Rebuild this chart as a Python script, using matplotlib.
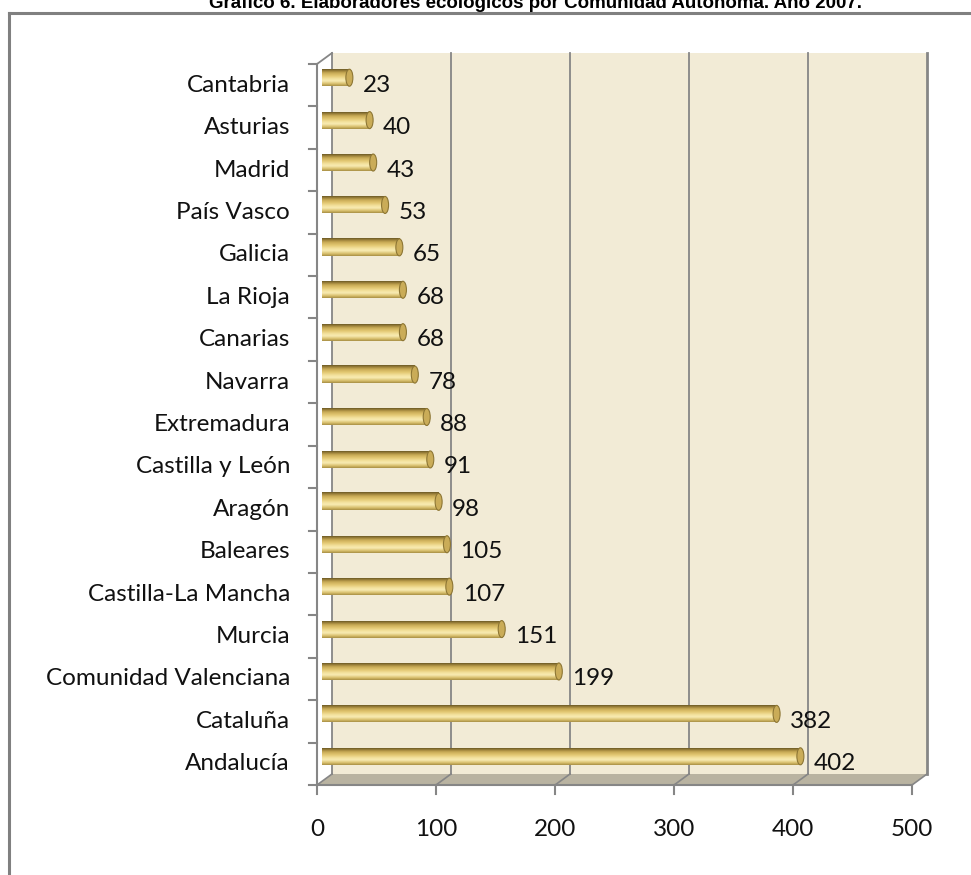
import matplotlib
matplotlib.use("Agg")
import matplotlib.pyplot as plt
import numpy as np
from matplotlib.patches import Polygon, Ellipse
from matplotlib.lines import Line2D
from matplotlib.colors import LinearSegmentedColormap

# data (top to bottom as in the chart)
regiones = ['Cantabria', 'Asturias', 'Madrid', 'País Vasco', 'Galicia', 'La Rioja',
            'Canarias', 'Navarra', 'Extremadura', 'Castilla y León', 'Aragón', 'Baleares',
            'Castilla-La Mancha', 'Murcia', 'Comunidad Valenciana', 'Cataluña', 'Andalucía']
elaboradores = [23, 40, 43, 53, 65, 68, 68, 78, 88, 91, 98, 105, 107, 151, 199, 382, 402]
x_ticks = [0, 100, 200, 300, 400, 500]
titulo = 'Gráfico 6. Elaboradores ecológicos por Comunidad Autónoma. Año 2007.'

W, H = 971, 875
fig = plt.figure(figsize=(W / 100, H / 100), dpi=100)

# front plane of the 3d box, in pixels
x0p, x1p, y0p, y1p = 317, 912, 64, 785
ax = fig.add_axes([x0p / W, 1 - y1p / H, (x1p - x0p) / W, (y1p - y0p) / H])
n = len(regiones)
ax.set_xlim(0, 500)
ax.set_ylim(-0.5, n - 0.5)
ax.axis('off')

px_x = 500 / (x1p - x0p)      # data units per pixel
px_y = n / (y1p - y0p)
dx, dy = 15 * px_x, 11 * px_y  # depth of the box
ypos = np.arange(n)[::-1]      # Cantabria on top

grid_c = '#868686'
font = 'Lato'
fs = 17.5

# back wall
ax.add_patch(Polygon([(dx, -0.5 + dy), (500 + dx, -0.5 + dy), (500 + dx, n - 0.5 + dy), (dx, n - 0.5 + dy)],
                     closed=True, fc='#f2ebd6', ec='none', zorder=0, clip_on=False))
# floor
ax.add_patch(Polygon([(0, -0.5), (500, -0.5), (500 + dx, -0.5 + dy), (dx, -0.5 + dy)],
                     closed=True, fc='#b9b3a1', ec='none', zorder=0.5, clip_on=False))

for t in x_ticks:
    # gridline on the back wall
    lw = 2 if t == 500 else 1.3
    ax.plot([t + dx, t + dx], [-0.5 + dy, n - 0.5 + dy], color=grid_c, lw=lw, zorder=1, clip_on=False)
    # floor diagonal
    ax.plot([t, t + dx], [-0.5, -0.5 + dy], color=grid_c, lw=1.2, zorder=1, clip_on=False)
    # tick under the front axis
    ax.plot([t, t], [-0.5, -0.5 - 9 * px_y], color=grid_c, lw=1.5, zorder=1, clip_on=False)
    ax.text(t, -0.5 - 44 * px_y, str(t), ha='center', va='center', fontsize=fs,
            family=font, color='#111111')

# top-left diagonal and front axes
ax.plot([0, dx], [n - 0.5, n - 0.5 + dy], color=grid_c, lw=1.3, zorder=1, clip_on=False)
ax.plot([0, 0], [-0.5, n - 0.5], color=grid_c, lw=1.5, zorder=1, clip_on=False)
ax.plot([0, 500], [-0.5, -0.5], color=grid_c, lw=1.5, zorder=1, clip_on=False)
for k in range(n + 1):
    ax.plot([0, -8 * px_x], [k - 0.5, k - 0.5], color=grid_c, lw=1.5, zorder=1, clip_on=False)

# cylinder bars
cyl = LinearSegmentedColormap.from_list('cyl', [
    (0.0, '#a88f45'), (0.12, '#d6bd6a'), (0.3, '#f8ebb2'), (0.42, '#f4e3a0'),
    (0.6, '#e3c872'), (0.78, '#c8aa55'), (0.9, '#9c813a'), (1.0, '#6c5a26')])
grad = np.linspace(0, 1, 64).reshape(-1, 1)
bh = 17 * px_y
bx, by = 5 * px_x, 7.5 * px_y
capw = 7 * px_x
for y, v, nombre in zip(ypos, elaboradores, regiones):
    yc = y + by
    ax.imshow(grad, cmap=cyl, aspect='auto', extent=[bx, bx + v, yc + bh / 2, yc - bh / 2],
              zorder=3, interpolation='bilinear')
    ax.add_patch(Ellipse((bx + v, yc), capw, bh, fc='#caac58', ec='#8d7634', lw=0.8, zorder=4))
    ax.text(bx + v + capw / 2 + 10 * px_x, y, str(v), ha='left', va='center', fontsize=fs,
            family=font, color='#111111', zorder=5)
    ax.text(-27 * px_x, y, nombre, ha='right', va='center', fontsize=fs, family=font, color='#111111')

ax.set_xlim(0, 500)
ax.set_ylim(-0.5, n - 0.5)

# outer frame (runs off the right and bottom edges) and title, cut at the top as in the original
fig.add_artist(Line2D([8.5 / W, 8.5 / W], [0, 1 - 13 / H], color='#808080', lw=2.2))
fig.add_artist(Line2D([8.5 / W, 1], [1 - 13 / H, 1 - 13 / H], color='#808080', lw=2.2))
fig.text(0.5 + 50 / W, 1 - 8 / H, titulo, ha='center', va='baseline', fontsize=13.5,
         family='Liberation Sans', weight='bold')

fig.savefig('out.png', dpi=100, facecolor='white')
